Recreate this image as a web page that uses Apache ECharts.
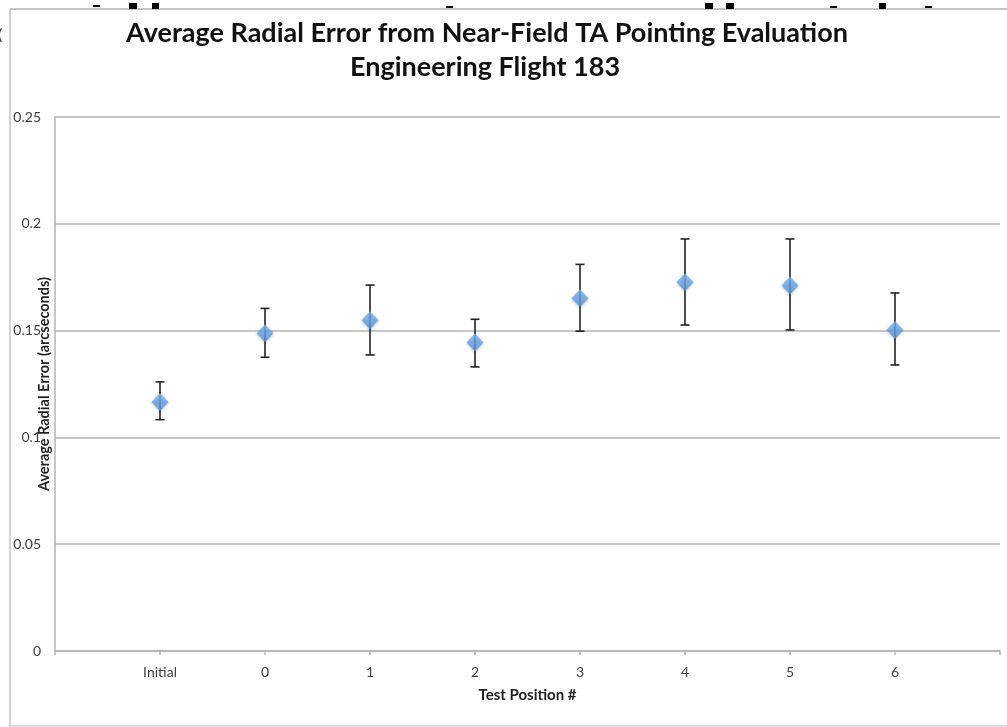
<!DOCTYPE html>
<html>
<head>
<meta charset="utf-8">
<script src="https://cdn.jsdelivr.net/npm/echarts@6/dist/echarts.min.js"></script>
<style>
  html, body { margin: 0; padding: 0; background: #fff; }
  #chart { width: 1007px; height: 727px; }
</style>
</head>
<body>
<div id="chart"></div>
<script>
// categories along the x axis (placed at x = 0..7)
var categories = ["Initial", "0", "1", "2", "3", "4", "5", "6"];
// average radial error (arcseconds)
var avgError = [0.1166, 0.1488, 0.1548, 0.1444, 0.1652, 0.1726, 0.1711, 0.1503];
// error bar ends
var errLow  = [0.1083, 0.1375, 0.1386, 0.1330, 0.1497, 0.1526, 0.1503, 0.1339];
var errHigh = [0.1260, 0.1604, 0.1713, 0.1553, 0.1810, 0.1929, 0.1929, 0.1676];
var yTicks = [0, 0.05, 0.1, 0.15, 0.2, 0.25];

var points = avgError.map(function (v, i) { return [i, v]; });
var bars = avgError.map(function (v, i) { return [i, errLow[i], errHigh[i]]; });

var myChart = echarts.init(document.getElementById("chart"));
var axisGray = "#b3b3b3";
var labelFont = "Lato, 'Open Sans', sans-serif";

myChart.setOption({
  animation: false,
  grid: { left: 55, right: 7, top: 117, bottom: 76, containLabel: false, outerBoundsMode: "none" },
  xAxis: {
    type: "value",
    min: -1,
    max: 8,
    interval: 1,
    name: "Test Position #",
    nameLocation: "middle",
    nameGap: 37,
    nameMoveOverlap: false,
    nameTextStyle: { fontFamily: labelFont, fontWeight: "bold", fontSize: 15, color: "#222" },
    axisLine: { show: true, onZero: false, lineStyle: { color: axisGray, width: 1.5 } },
    axisTick: { show: true, length: 4, lineStyle: { color: axisGray, width: 1.5 } },
    splitLine: { show: false },
    axisLabel: {
      margin: 14,
      fontFamily: labelFont,
      fontSize: 14,
      color: "#404040",
      showMinLabel: true,
      showMaxLabel: true,
      formatter: function (v) {
        return categories[v] !== undefined ? categories[v] : "";
      }
    }
  },
  yAxis: {
    type: "value",
    min: yTicks[0],
    max: yTicks[yTicks.length - 1],
    interval: 0.05,
    name: "Average Radial Error (arcseconds)",
    nameLocation: "middle",
    nameGap: 3,
    nameMoveOverlap: false,
    nameTextStyle: { fontFamily: labelFont, fontWeight: "bold", fontSize: 14.5, color: "#222" },
    axisLine: { show: true, onZero: false, lineStyle: { color: axisGray, width: 1.5 } },
    axisTick: { show: false },
    splitLine: { show: true, lineStyle: { color: axisGray, width: 1.5 } },
    axisLabel: {
      margin: 14,
      fontFamily: labelFont,
      fontSize: 14,
      color: "#404040",
      formatter: function (v) { return String(+v.toFixed(2)); }
    }
  },
  series: [
    {
      name: "error",
      type: "custom",
      z: 2,
      data: bars,
      encode: { x: 0, y: [1, 2] },
      renderItem: function (params, api) {
        var x = api.value(0);
        var lo = api.coord([x, api.value(1)]);
        var hi = api.coord([x, api.value(2)]);
        var capW = 4.5;
        var style = { stroke: "#222", lineWidth: 1.6 };
        return {
          type: "group",
          children: [
            { type: "line", shape: { x1: lo[0], y1: lo[1], x2: hi[0], y2: hi[1] }, style: style },
            { type: "line", shape: { x1: lo[0] - capW, y1: lo[1], x2: lo[0] + capW, y2: lo[1] }, style: style },
            { type: "line", shape: { x1: hi[0] - capW, y1: hi[1], x2: hi[0] + capW, y2: hi[1] }, style: style }
          ]
        };
      }
    },
    {
      name: "Average",
      type: "scatter",
      z: 3,
      symbol: "diamond",
      symbolSize: [17, 18],
      data: points,
      itemStyle: {
        color: new echarts.graphic.LinearGradient(0, 0, 0, 1, [
          { offset: 0, color: "#7db4f0" },
          { offset: 1, color: "#5395df" }
        ]),
        shadowColor: "rgba(0,0,0,0.3)",
        shadowBlur: 3,
        shadowOffsetY: 1
      }
    }
  ],
  graphic: [
    // outer frame
    { type: "line", shape: { x1: 10, y1: 9, x2: 1007, y2: 9 }, style: { stroke: "#c4c4c4", lineWidth: 2 } },
    { type: "line", shape: { x1: 10, y1: 9, x2: 10, y2: 727 }, style: { stroke: "#c4c4c4", lineWidth: 1.5 } },
    { type: "line", shape: { x1: 10, y1: 726, x2: 1007, y2: 726 }, style: { stroke: "#d0d0d0", lineWidth: 1.5 } },
    // cut-off marks above the frame
    { type: "rect", shape: { x: 93, y: 5, width: 7, height: 2 }, style: { fill: "#000" } },
    { type: "rect", shape: { x: 129, y: 3, width: 8, height: 6 }, style: { fill: "#000" } },
    { type: "rect", shape: { x: 152, y: 3, width: 7, height: 6 }, style: { fill: "#000" } },
    { type: "rect", shape: { x: 446, y: 6, width: 7, height: 2 }, style: { fill: "#000" } },
    { type: "rect", shape: { x: 705, y: 3, width: 8, height: 6 }, style: { fill: "#000" } },
    { type: "rect", shape: { x: 726, y: 3, width: 8, height: 6 }, style: { fill: "#000" } },
    { type: "rect", shape: { x: 830, y: 6, width: 7, height: 2 }, style: { fill: "#000" } },
    { type: "rect", shape: { x: 879, y: 3, width: 7, height: 6 }, style: { fill: "#000" } },
    { type: "rect", shape: { x: 925, y: 6, width: 7, height: 2 }, style: { fill: "#000" } },
    {
      type: "text", left: -2, top: 27,
      style: { text: "(", font: "16px " + labelFont, fill: "#333" }
    },
    // title
    {
      type: "text", x: 487, y: 33,
      style: {
        text: "Average Radial Error from Near-Field TA Pointing Evaluation",
        font: "bold 27px " + labelFont, fill: "#111",
        textAlign: "center", textVerticalAlign: "middle"
      }
    },
    {
      type: "text", x: 485, y: 67,
      style: {
        text: "Engineering Flight 183",
        font: "bold 27px " + labelFont, fill: "#111",
        textAlign: "center", textVerticalAlign: "middle"
      }
    }
  ]
});
</script>
</body>
</html>
